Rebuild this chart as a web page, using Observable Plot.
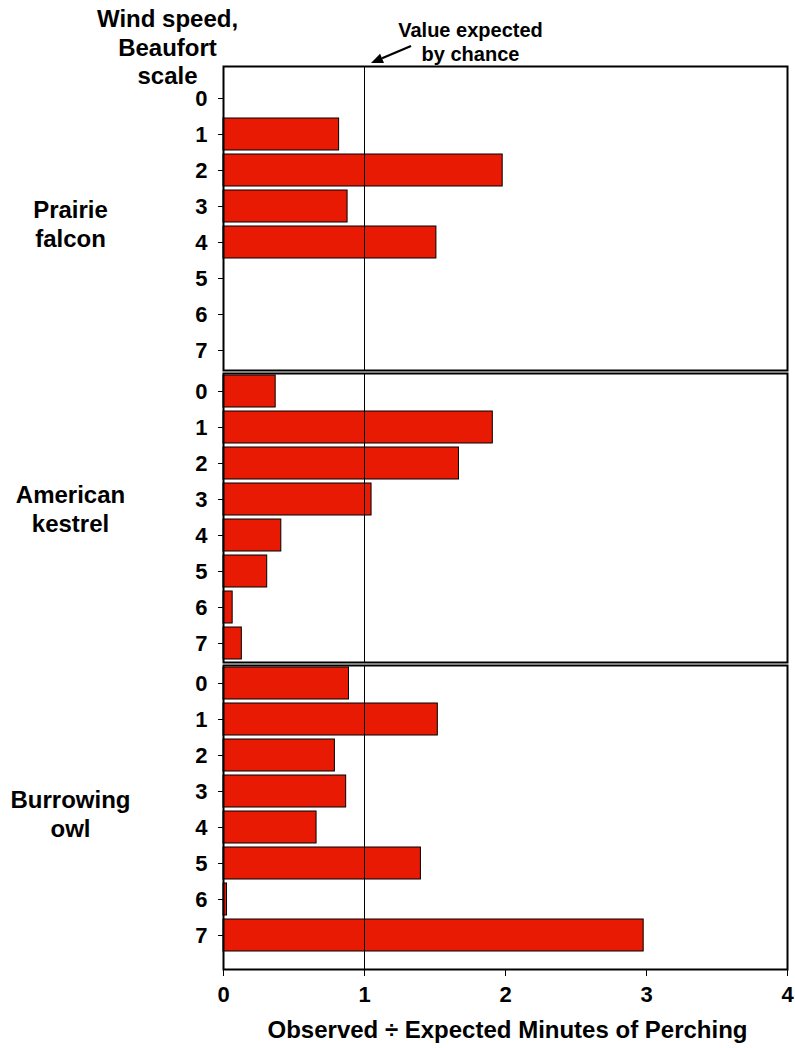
<!DOCTYPE html>
<html>
<head>
<meta charset="utf-8">
<script src="https://cdn.jsdelivr.net/npm/d3@7"></script>
<script src="https://cdn.jsdelivr.net/npm/@observablehq/plot@0.6"></script>
<style>
  html, body { margin: 0; padding: 0; background: #ffffff; }
  #chart { width: 795px; height: 1048px; position: relative; }
  #chart svg { display: block; }
</style>
</head>
<body>
<div id="chart"></div>
<script>
// ---- data ----
const windLevels = ["0", "1", "2", "3", "4", "5", "6", "7"];
const speciesNames = ["Prairie\nfalcon", "American\nkestrel", "Burrowing\nowl"];
const prairieFalcon = [0, 0.82, 1.98, 0.88, 1.51, 0, 0, 0];
const americanKestrel = [0.37, 1.91, 1.67, 1.05, 0.41, 0.31, 0.065, 0.13];
const burrowingOwl = [0.89, 1.52, 0.79, 0.87, 0.66, 1.40, 0.025, 2.98];
const xTicks = [0, 1, 2, 3, 4];
const chanceValue = 1;
const yTitle = "Wind speed,\nBeaufort\nscale";
const chanceLabel = "Value expected\nby chance";
const xTitle = "Observed ÷ Expected Minutes of Perching";

const FONT = "'Liberation Sans', Arial, Helvetica, sans-serif";
const RED = "#e81a04";

function rows(values) {
  return windLevels.map((w, i) => ({wind: w, value: values[i]})).filter(d => d.value > 0);
}

function panel({values, name, nameDy, height, marginTop, marginBottom, yRange, showX, extra}) {
  const marks = [
    Plot.barX(rows(values), {x: "value", y: "wind", fill: RED, stroke: "black", strokeWidth: 1}),
    Plot.ruleX([chanceValue], {stroke: "black", strokeWidth: 1}),
    Plot.frame({stroke: "black", strokeWidth: 2}),
    Plot.axisY({tickSize: 5, tickPadding: 11, fontSize: 22, label: null}),
    Plot.text([name], {frameAnchor: "left", dx: -153, dy: nameDy, textAnchor: "middle", lineAnchor: "middle",
      fontSize: 24, lineHeight: 1.2, fill: "black"})
  ];
  if (showX) {
    marks.push(Plot.axisX({ticks: xTicks, tickSize: 7, tickPadding: 10, fontSize: 22, label: null, tickFormat: d3.format("d")}));
    marks.push(Plot.text([xTitle], {frameAnchor: "bottom", dx: 2, dy: 61, textAnchor: "middle", lineAnchor: "middle", fontSize: 24, fill: "black"}));
  }
  if (extra) marks.push(...extra);
  return Plot.plot({
    width: 795,
    height,
    marginLeft: 223,
    marginRight: 8,
    marginTop,
    marginBottom,
    style: {fontFamily: FONT, fontWeight: "bold", color: "black", background: "white", overflow: "visible"},
    x: {domain: [0, 4], axis: showX ? undefined : null},
    y: {domain: windLevels, range: yRange, paddingInner: 0.11, paddingOuter: 0.055},
    marks
  });
}

// arrow annotation pointing at the chance line
function chanceArrow(index, scales, values, dims) {
  const x0 = scales.x(chanceValue);
  const top = dims.marginTop;
  const tail = [x0 + 47, top - 20];
  const tip = [x0 + 7, top - 3];
  const ang = Math.atan2(tip[1] - tail[1], tip[0] - tail[0]);
  const L = 12, W = 5;
  const bx = tip[0] - L * Math.cos(ang), by = tip[1] - L * Math.sin(ang);
  const px = -Math.sin(ang) * W, py = Math.cos(ang) * W;
  const g = d3.create("svg:g");
  g.append("line").attr("x1", tail[0]).attr("y1", tail[1]).attr("x2", bx).attr("y2", by)
    .attr("stroke", "black").attr("stroke-width", 2.2);
  g.append("path").attr("d", `M${tip[0]},${tip[1]}L${bx + px},${by + py}L${bx - px},${by - py}Z`).attr("fill", "black");
  return g.node();
}

const topExtras = [
  Plot.text([yTitle], {frameAnchor: "top-left", dx: -56, dy: -20, textAnchor: "middle", lineAnchor: "middle",
    fontSize: 24, lineHeight: 1.19, fill: "black"}),
  Plot.text([chanceLabel], {x: chanceValue, frameAnchor: "top", dx: 106, dy: -25, textAnchor: "middle", lineAnchor: "middle",
    fontSize: 20, lineHeight: 1.2, fill: "black"}),
  chanceArrow
];

const chart = document.getElementById("chart");
chart.append(panel({values: prairieFalcon, name: speciesNames[0], nameDy: 4.5, height: 372, marginTop: 66, marginBottom: 2,
  yRange: [79.7, 367.7], showX: false, extra: topExtras}));
chart.append(panel({values: americanKestrel, name: speciesNames[1], nameDy: -10, height: 292, marginTop: 1, marginBottom: 2,
  yRange: [1, 289], showX: false}));
chart.append(panel({values: burrowingOwl, name: speciesNames[2], nameDy: -4.5, height: 384, marginTop: 1, marginBottom: 79,
  yRange: [1, 289], showX: true}));
</script>
</body>
</html>
